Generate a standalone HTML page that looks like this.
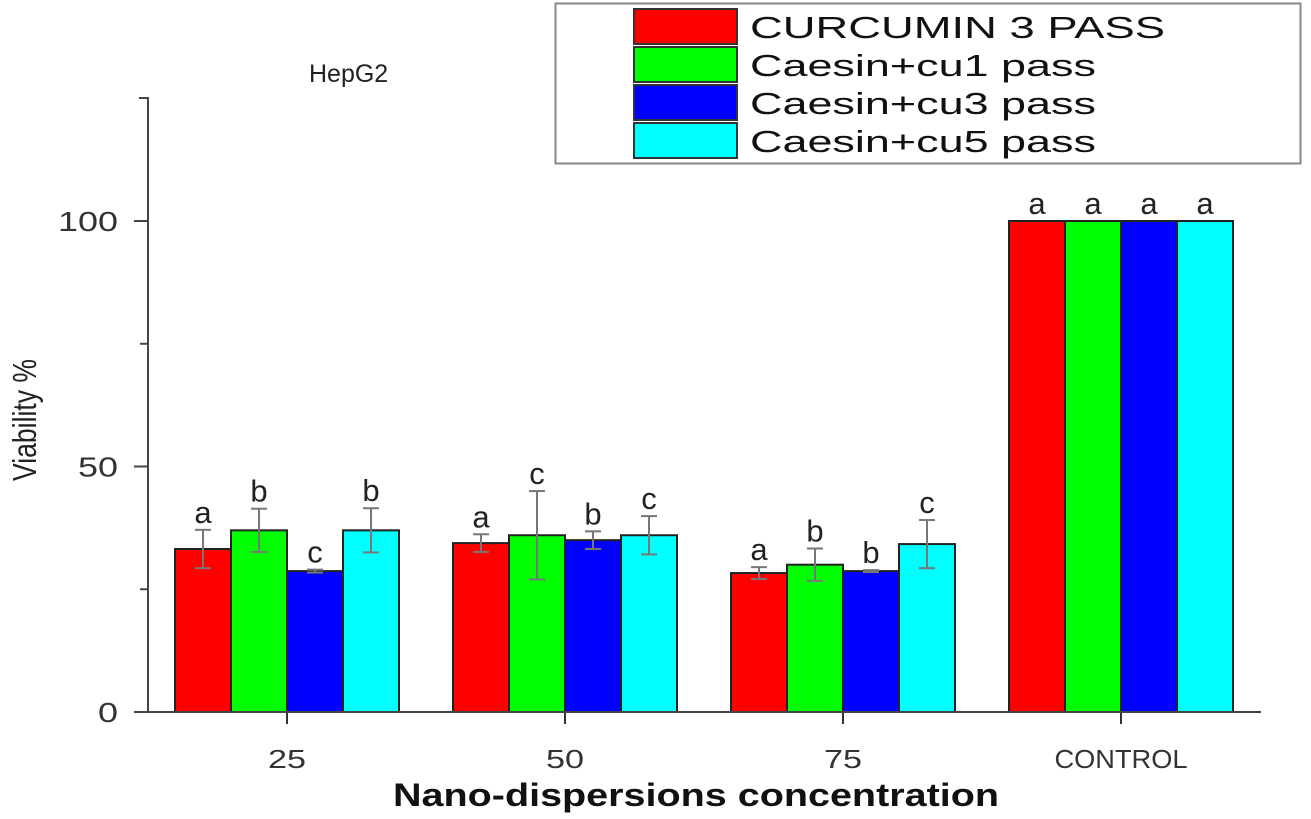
<!DOCTYPE html>
<html><head><meta charset="utf-8"><style>html,body{margin:0;padding:0;background:#fff}svg{display:block}</style></head>
<body>
<svg id="chart" width="1311" height="819" xmlns="http://www.w3.org/2000/svg" font-family="Liberation Sans, sans-serif">
<text x="309" y="82" style="font-size:25px" fill="#222">HepG2</text>
<g id="legend">
<rect x="555.5" y="3.5" width="745" height="160" fill="#fff" stroke="#888" stroke-width="2"/>
</g>
<g id="plot"></g>
<text transform="translate(36,420) rotate(-90)" text-anchor="middle" style="font-size:33px" fill="#222" textLength="122" lengthAdjust="spacingAndGlyphs">Viability %</text>
<text x="393" y="806" font-size="32" font-weight="bold" fill="#111" textLength="606" lengthAdjust="spacingAndGlyphs">Nano-dispersions concentration</text>
</svg>
<script>
const categories = ["25", "50", "75", "CONTROL"];
const seriesNames = ["CURCUMIN 3 PASS", "Caesin+cu1 pass", "Caesin+cu3 pass", "Caesin+cu5 pass"];
const seriesColors = ["#ff0000", "#00ff00", "#0000ff", "#00ffff"];
const curcumin3 = [33.2, 34.4, 28.3, 100];
const caesin1 = [37, 36, 30, 100];
const caesin3 = [28.7, 35, 28.7, 100];
const caesin5 = [37, 36, 34.2, 100];
const err3 = [3.9, 1.8, 1.2, 0];
const errC1 = [4.4, 9, 3.3, 0];
const errC3 = [0.3, 1.8, 0.2, 0];
const errC5 = [4.5, 3.9, 4.9, 0];
const letters3 = ["a", "a", "a", "a"];
const lettersC1 = ["b", "c", "b", "a"];
const lettersC3 = ["c", "b", "b", "a"];
const lettersC5 = ["b", "c", "c", "a"];
const yTicks = [0, 50, 100];
const yMinorTicks = [25, 75];

const series = [curcumin3, caesin1, caesin3, caesin5];
const errs = [err3, errC1, errC3, errC5];
const lets = [letters3, lettersC1, lettersC3, lettersC5];
const NS = "http://www.w3.org/2000/svg";
const plot = document.getElementById('plot');
const legend = document.getElementById('legend');
const x0 = 148, y0 = 712;
const yScale = v => y0 - v * 4.91;
const groupCenter = i => 287 + i * 278;
const barW = 56;
function mk(tag, attrs, parent) {
  const e = document.createElementNS(NS, tag);
  for (const k in attrs) e.setAttribute(k, attrs[k]);
  (parent || plot).appendChild(e);
  return e;
}
categories.forEach((c, i) => {
  series.forEach((s, j) => {
    const x = groupCenter(i) - 2 * barW + j * barW;
    const y = yScale(s[i]);
    const r = mk('rect', {x: x, y: y, width: barW, height: y0 - y, fill: seriesColors[j], stroke: '#222', 'stroke-width': 2});
    
    
    const cx = x + barW / 2;
    const e = errs[j][i];
    let top = y;
    if (e > 0) {
      const g = mk('g', {stroke: '#777', 'stroke-width': 2});
      
      
      mk('line', {x1: cx, x2: cx, y1: yScale(s[i] + e), y2: yScale(s[i] - e)}, g);
      mk('line', {x1: cx - 8, x2: cx + 8, y1: yScale(s[i] + e), y2: yScale(s[i] + e)}, g);
      mk('line', {x1: cx - 8, x2: cx + 8, y1: yScale(s[i] - e), y2: yScale(s[i] - e)}, g);
      top = yScale(s[i] + e);
    }
    const t = mk('text', {x: cx, y: top - 7, 'text-anchor': 'middle', style: 'font-size:31px', fill: '#222'});
    
    
    t.textContent = lets[j][i];
  });
  const tk = mk('line', {x1: groupCenter(i), x2: groupCenter(i), y1: y0, y2: y0 + 12, stroke: '#333', 'stroke-width': 2});
  
  
  const tl = mk('text', {x: groupCenter(i), y: y0 + 56, 'text-anchor': 'middle', style: 'font-size:26px', fill: '#333', textLength: c.length * 19, lengthAdjust: 'spacingAndGlyphs'});
  
  
  tl.textContent = c;
});
const xa = mk('line', {x1: x0, x2: 1261, y1: y0, y2: y0, stroke: '#444', 'stroke-width': 2});


const ya = mk('line', {x1: x0, x2: x0, y1: 97, y2: y0, stroke: '#444', 'stroke-width': 2});


const yc = mk('line', {x1: x0 - 9, x2: x0, y1: 98, y2: 98, stroke: '#444', 'stroke-width': 2});


yTicks.forEach(v => {
  const l = mk('line', {x1: x0 - 14, x2: x0, y1: yScale(v), y2: yScale(v), stroke: '#444', 'stroke-width': 2});
  
  
  const t = mk('text', {x: 118, y: yScale(v) + 10, 'text-anchor': 'end', style: 'font-size:28px', fill: '#333', textLength: String(v).length * 20, lengthAdjust: 'spacingAndGlyphs'});
  
  
  t.textContent = v;
});
yMinorTicks.forEach(v => {
  const l = mk('line', {x1: x0 - 8, x2: x0, y1: yScale(v), y2: yScale(v), stroke: '#444', 'stroke-width': 2});
  
  
});
seriesNames.forEach((n, j) => {
  const y = 9 + j * 38;
  const r = mk('rect', {x: 634, y: y, width: 103, height: 35, fill: seriesColors[j], stroke: '#333', 'stroke-width': 2}, legend);
  
  
  const t = mk('text', {x: 750, y: y + 29, 'font-size': 31, fill: '#111', textLength: j === 0 ? 415 : 346, lengthAdjust: 'spacingAndGlyphs'}, legend);
  
  
  t.textContent = n;
});
</script>
</body></html>
